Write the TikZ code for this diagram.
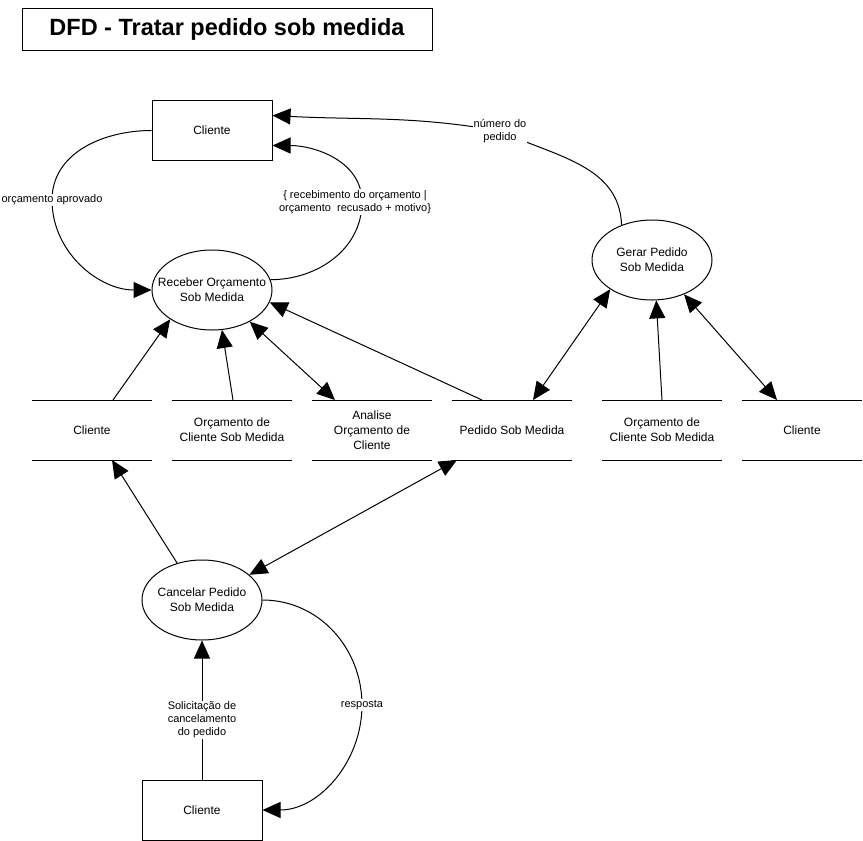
\documentclass[tikz,border=0pt]{standalone}
\usepackage{fontspec}
\setmainfont{Liberation Sans}
\usetikzlibrary{positioning, shapes.geometric, arrows.meta}
\tikzset{
    entity/.style={rectangle, minimum width=120pt, minimum height=60pt, text centered, draw=black},
    process/.style={ellipse, minimum width=120pt, minimum height=80pt, inner xsep=-12pt, inner ysep=0pt, align=center, draw=black},
    datastore/.style={rectangle, minimum width=120pt, minimum height=60pt, outer sep=0pt, align=center},
    flowlabel/.style={fill=white, inner sep=1pt, align=center, font=\fontsize{11pt}{13pt}\selectfont},
    arrow/.style={-{Triangle[length=18pt,width=16pt]}},
    biarrow/.style={{Triangle[length=18pt,width=16pt]}-{Triangle[length=18pt,width=16pt]}}
}
\begin{document}
\begin{tikzpicture}[x=1pt, y=1pt, line width=1pt, node distance=20pt, font=\fontsize{12pt}{15pt}\selectfont]

    \useasboundingbox (0,0) rectangle (863,-841);

    % Title
    \node (title) [draw, minimum width=410pt, minimum height=42pt, font=\bfseries\fontsize{23.5pt}{28pt}\selectfont] at (227,-29) {DFD - Tratar pedido sob medida};

    % Entities
    \node (cliente1) [entity] at (212,-130.5) {Cliente};
    \node (cliente3) [entity] at (202,-810) {Cliente};

    % Processes
    \node (receber) [process] at (212,-290) {Receber Orçamento\\Sob Medida};
    \node (gerar) [process] at (652,-260) {Gerar Pedido\\Sob Medida};
    \node (cancelar) [process] at (202,-600) {Cancelar Pedido\\Sob Medida};

    % Data stores
    \node (storecli1) [datastore] at (92,-430) {Cliente};
    \node (storeorc1) [datastore, right=of storecli1] {Orçamento de\\Cliente Sob Medida};
    \node (storeanalise) [datastore, right=of storeorc1] {Analise\\Orçamento de\\Cliente};
    \node (storepedido) [datastore, right=of storeanalise] {Pedido Sob Medida};
    \node (storeorc2) [datastore, right=30pt of storepedido] {Orçamento de\\Cliente Sob Medida};
    \node (storecli2) [datastore, right=of storeorc2] {Cliente};
    \foreach \s in {storecli1, storeorc1, storeanalise, storepedido, storeorc2, storecli2}
        \draw (\s.north west) -- (\s.north east) (\s.south west) -- (\s.south east);

    % Arrows
    \draw [arrow] (cliente1.west) to[out=180,in=90] (52,-200) node[flowlabel]{orçamento aprovado} to[out=-90,in=180] (receber.west);
    \draw [arrow] (receber.10) to[out=0,in=-90] (362,-202) node[flowlabel, xshift=-7pt]{\{ recebimento do orçamento |\\orçamento~ recusado + motivo\}} to[out=90,in=0] ([yshift=-15pt]cliente1.east);
    \draw [arrow] (gerar.131) to[out=92,in=-25] (500,-131) node[flowlabel]{número do\\pedido} to[out=170,in=-3] ([yshift=15pt]cliente1.east);

    \draw [arrow] ([xshift=21pt]storecli1.north) -- (receber.215);
    \draw [arrow] ([xshift=1pt]storeorc1.north) -- (receber.284);
    \draw [biarrow] (receber.320) -- ([xshift=-37pt]storeanalise.north);
    \draw [arrow] ([xshift=-30pt]storepedido.north) -- (receber.348);
    \draw [biarrow] (gerar.215) -- ([xshift=21pt]storepedido.north);
    \draw [arrow] (storeorc2.north) -- (gerar.276);
    \draw [biarrow] (gerar.313) -- ([xshift=-25pt]storecli2.north);

    \draw [arrow] (cancelar.124) -- ([xshift=20pt]storecli1.south);
    \draw [biarrow] ([xshift=-55pt]storepedido.south) -- (cancelar.28);
    \draw [arrow] (cliente3.north) -- node[flowlabel, pos=0.43]{Solicitação de\\cancelamento\\do pedido} (cancelar.south);
    \draw [arrow] (cancelar.east) to[out=0,in=90] (362,-705) node[flowlabel]{resposta} to[out=-90,in=0] (cliente3.east);

\end{tikzpicture}
\end{document}
